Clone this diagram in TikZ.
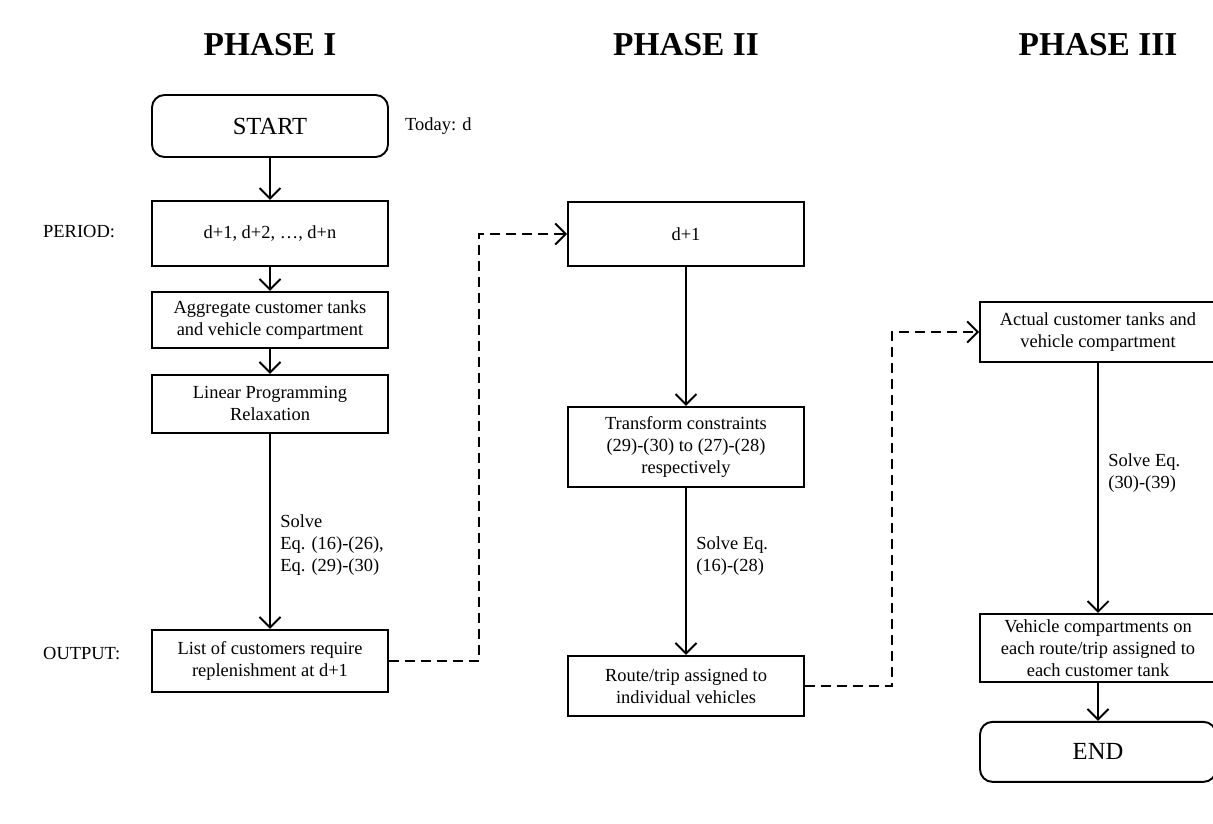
\documentclass[tikz,border=0pt]{standalone}
\usepackage{fontspec}
\setmainfont{Liberation Serif}
\usetikzlibrary{positioning, calc, arrows.meta}

\begin{document}
\begin{tikzpicture}[
        node distance=0.5cm,
        every node/.style={font=\fontsize{10.5}{12.6}\selectfont},
        phase/.style={font=\fontsize{19}{22}\selectfont\bfseries},
        terminal/.style={rectangle, rounded corners=0.25cm, draw, line width=1.1pt, minimum width=4.72cm, minimum height=1.24cm, align=center, font=\fontsize{14}{16}\selectfont},
        proc/.style={rectangle, draw, line width=1.1pt, minimum width=4.72cm, minimum height=1.2cm, inner sep=2pt, align=center},
        side/.style={anchor=west},
        flow/.style={-{Straight Barb[length=6pt,width=12pt]}, line width=1.1pt},
        hand/.style={-{Straight Barb[length=6pt,width=12pt]}, line width=1.1pt, dash pattern=on 0.2cm off 0.12cm}
    ]
        \useasboundingbox (0,0) rectangle (24.26,-16.46);

        % Phase titles
        \node[phase] (P1) at (5.4,-0.9) {PHASE I};
        \node[phase] (P2) at (13.72,-0.9) {PHASE II};
        \node[phase] (P3) at (21.96,-0.9) {PHASE III};

        % Phase I
        \node[terminal] (START) at (5.4,-2.52) {START};
        \node[proc, below=0.84cm of START, minimum height=1.3cm] (PER) {d+1, d+2, \dots, d+n};
        \node[proc, below=0.48cm of PER, minimum height=1.12cm] (AGG) {Aggregate customer tanks\\and vehicle compartment};
        \node[proc, below=0.5cm of AGG, minimum height=1.16cm] (LP) {Linear Programming\\Relaxation};
        \node[proc, below=3.9cm of LP, minimum height=1.24cm] (LIST) {List of customers require\\replenishment at d+1};

        \node[side] (TODAY) at (7.98,-2.52) {Today: d};
        \node[side] (PERIOD) at (0.74,-4.64) {PERIOD:};
        \node[side] (OUTPUT) at (0.74,-13.08) {OUTPUT:};

        % Phase II
        \node[proc, minimum height=1.28cm] (D1) at (13.72,-4.68) {d+1};
        \node[proc, below=2.78cm of D1, minimum height=1.6cm] (TRANS) {Transform constraints\\(29)-(30) to (27)-(28)\\respectively};
        \node[proc, below=3.34cm of TRANS, minimum height=1.2cm] (ROUTE) {Route/trip assigned to\\individual vehicles};

        % Phase III
        \node[proc, minimum height=1.2cm] (ACT) at (21.96,-6.64) {Actual customer tanks and\\vehicle compartment};
        \node[proc, below=5cm of ACT, minimum height=1.36cm, inner sep=1pt] (VEH) {Vehicle compartments on\\each route/trip assigned to\\each customer tank};
        \node[terminal, below=0.76cm of VEH, minimum height=1.2cm] (END) {END};

        % Arrows
        \draw[flow] (START) -- (PER);
        \draw[flow] (PER) -- (AGG);
        \draw[flow] (AGG) -- (LP);
        \draw[flow] (LP) -- node[pos=0.57, right, align=left, xshift=2pt] {Solve\\Eq. (16)-(26),\\Eq. (29)-(30)} (LIST);
        \draw[flow] (D1) -- (TRANS);
        \draw[flow] (TRANS) -- node[pos=0.41, right, align=left, xshift=2pt] {Solve Eq.\\(16)-(28)} (ROUTE);
        \draw[flow] (ACT) -- node[pos=0.44, right, align=left, xshift=2pt] {Solve Eq.\\(30)-(39)} (VEH);
        \draw[flow] (VEH) -- (END);

        % Hand-over between phases
        \draw[hand] (LIST.east) -- ++(1.8,0) |- (D1.west);
        \draw[hand] (ROUTE.east) -- ++(1.74,0) |- (ACT.west);
    \end{tikzpicture}
\end{document}
